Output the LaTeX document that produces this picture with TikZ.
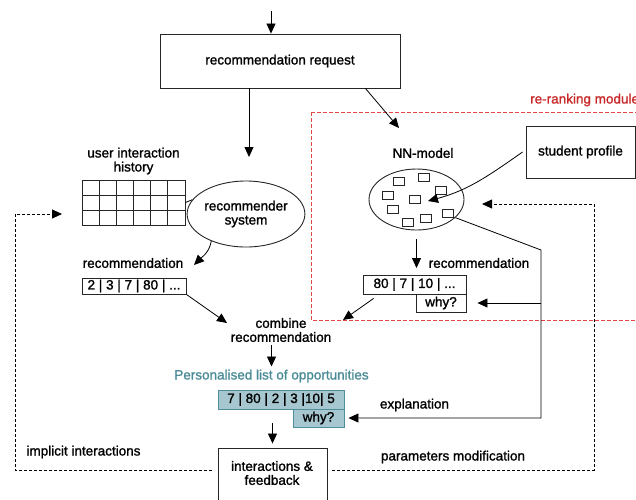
\documentclass[tikz,border=0pt]{standalone}
\usepackage{fontspec}
\setmainfont{Liberation Sans}
\newfontfamily\heavyfont[FakeBold=1.3]{Liberation Sans}
\usetikzlibrary{arrows.meta,shapes.geometric}
\definecolor{tealfill}{RGB}{166,199,207}
\definecolor{tealdraw}{RGB}{78,143,153}
\definecolor{tealtext}{RGB}{74,140,150}
\definecolor{redd}{RGB}{228,70,70}
\definecolor{redt}{RGB}{200,40,40}
\begin{document}
\begin{tikzpicture}[x=1pt,y=1pt,
  every node/.style={font=\heavyfont\fontsize{13.5}{14}\selectfont},
  lbl/.style={inner sep=0pt, align=center},
  box/.style={draw=black!85, line width=0.9pt, inner sep=0pt, align=center},
  tealbox/.style={draw=tealdraw, fill=tealfill, line width=0.9pt, inner sep=0pt},
  arr/.style={line width=0.8pt, -{Triangle[length=10pt,width=9pt]}},
  fbl/.style={line width=0.8pt, dash pattern=on 3pt off 2pt, -{Triangle[length=10pt,width=9pt]}},
  reddash/.style={draw=redd, line width=0.8pt, dash pattern=on 4pt off 2pt},
  smallrect/.style={draw=black!85, line width=0.8pt},
  gridline/.style={draw=black!85, line width=0.8pt}]
\useasboundingbox (0,0) rectangle (636,-499);
\clip (0,0) rectangle (636,-499);

% red re-ranking module
\draw[reddash] (311,-112) rectangle (660,-320);
\node[lbl, anchor=west, text=redt] (rrm) at (530,-100) {re-ranking module};

% request
\node[box, minimum width=240, minimum height=54] (req) at (280,-61) {recommendation request};
\coordinate (top) at (271,-11);
\draw[arr] (top) -- (top |- req.north);

% user interaction history
\node[lbl] (uihl) at (133.5,-161) {user interaction\\history};
\node[draw=black!85, line width=0.9pt, minimum width=103, minimum height=45, inner sep=0pt] (grid) at (133.5,-202.5) {};
\foreach \i in {1,...,5} \draw[gridline] ({82+\i*17.1667},-180) -- ({82+\i*17.1667},-225);
\foreach \j in {195,210} \draw[gridline] (82,-\j) -- (185,-\j);

% recommender system
\node[ellipse, draw=black!85, line width=0.9pt, minimum width=92, minimum height=66, inner sep=0pt, align=center] (rs) at (246,-214) {recommender\\system};
\draw[line width=0.8pt] (grid.east) -- (rs.165);
\coordinate (rsin) at (249,-157);
\draw[arr] (req.south -| rsin) -- (rsin);

% left recommendation
\node[lbl] (rec1) at (133,-263) {recommendation};
\node[box, minimum width=104, minimum height=16] (l1) at (134,-286) {2 | 3 | 7 | 80 | ...};
\coordinate (rec1in) at (194,-265);
\draw[arr] (rs.218) to[out=-100,in=45] (rec1in);

% combine
\node[lbl] (comb) at (281,-330) {combine\\recommendation};
\coordinate (combinL) at (227,-323);
\draw[arr] (l1.south east) -- (combinL);

% NN model
\node[lbl] (nnl) at (423,-153) {NN-model};
\node[ellipse, draw=black!85, line width=0.9pt, minimum width=95, minimum height=61, inner sep=0pt] (nn) at (416.5,-199.5) {};
\foreach \x/\y in {393/177,418/173,435/186,382/191,409/195,387/205,442/209,420/214,402/218}
  \draw[smallrect] (\x,-\y) rectangle ++(11.5,-8);
\coordinate (nnin) at (399,-128);
\draw[arr] ([xshift=-35pt]req.south east) -- (nnin);
\coordinate (nndown) at (416.5,-268);
\draw[arr] ([yshift=-9pt]nn.south) -- (nndown);

\node[lbl] (rec2) at (479,-263) {recommendation};
\node[box, minimum width=103, minimum height=19] (l2) at (414.5,-284.5) {80 | 7 | 10 | ...};
\node[box, minimum width=50, minimum height=18] (w2) at (441,-303) {why?};
\coordinate (combinR) at (343,-320);
\draw[arr] ([shift={(11pt,-4pt)}]l2.south west) -- (combinR);

% student profile
\node[box, minimum width=109, minimum height=52] (sp) at (580.5,-152) {student profile};
\coordinate (nnsp) at (428,-201);
\draw[arr] ([xshift=-3pt]sp.west) to[out=215,in=15] (nnsp);

% personalised list
\node[lbl, text=tealtext] (pers) at (271.5,-376) {Personalised list of opportunities};
\draw[arr] (comb.south -| pers.north) ++(0,-3) -- ([yshift=3pt]pers.north);
\node[tealbox, minimum width=126, minimum height=19] (l3) at (281,-399.5) {7 | 80 | 2 | 3 |10| 5};
\node[tealbox, minimum width=51, minimum height=18] (w3) at (318.5,-418) {why?};

% interactions & feedback
\node[box, minimum width=109, minimum height=62] (fb) at (272.5,-479) {};
\node[lbl] (fbt) at (272,-473) {interactions \&\\feedback};
\draw[arr] ([yshift=-14pt]l3.south -| fb.north) -- ([yshift=4pt]fb.north);

% explanation path
\coordinate (e1) at (541,-250);
\coordinate (e2) at (541,-418);
\coordinate (eb) at (541,-303);
\draw[arr] (nn.-25) -- (e1) -- (e2) -- ([xshift=4pt]w3.east);
\draw[arr] (eb) -- ([xshift=11pt]w2.east);

% labels
\node[lbl] (expl) at (414.5,-405) {explanation};
\node[lbl] (pm) at (453,-457) {parameters modification};
\node[lbl] (ii) at (83.5,-452) {implicit interactions};

% feedback loops
\coordinate (lb) at (15,-470);
\coordinate (lc) at (15,-214);
\coordinate (gridin) at (62,-214);
\draw[fbl] ([xshift=-6pt]fb.west |- lb) -| (lc) -- (gridin);
\coordinate (rc) at (594,-204);
\coordinate (nnfb) at (482,-204);
\draw[fbl] ([xshift=5pt]fb.east |- lb) -| (rc) -- (nnfb);
\end{tikzpicture}
\end{document}
